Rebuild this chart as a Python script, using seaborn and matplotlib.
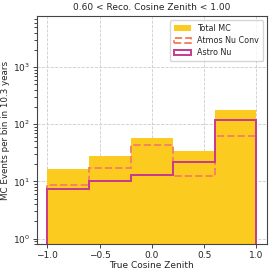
import matplotlib
matplotlib.use("Agg")
import matplotlib.pyplot as plt
import seaborn as sns
import numpy as np

# binning in true cosine zenith
bin_edges = [-1.0, -0.6, -0.2, 0.2, 0.6, 1.0]
total_mc = [16.2, 28.0, 56.8, 34.4, 180.0]
atmos_conv = [8.6, 17.3, 43.0, 12.2, 63.0]
astro_nu = [7.4, 10.3, 12.9, 22.0, 119.0]

centers = 0.5 * (np.array(bin_edges[:-1]) + np.array(bin_edges[1:]))

sns.set_style("ticks")
plt.rcParams["font.family"] = ["DejaVu Sans"]

fig = plt.figure(figsize=(2.74, 2.74), dpi=100)
ax = fig.add_axes([0.135, 0.109, 0.839, 0.833])

sns.histplot(x=centers, weights=total_mc, bins=bin_edges, element="step",
             fill=True, color="#FCCB20", alpha=1.0, linewidth=0,
             label="Total MC", ax=ax)
ax.hist(centers, bins=bin_edges, weights=atmos_conv, histtype="step",
        color="#F4845F", linestyle="--", linewidth=1.4, label="Atmos Nu Conv")
ax.hist(centers, bins=bin_edges, weights=astro_nu, histtype="step",
        color="#C73A8E", linewidth=1.4, label="Astro Nu")

ax.set_yscale("log")
ax.set_xlim(-1.1, 1.1)
ax.set_ylim(0.8, 7850)
ax.set_xticks([-1.0, -0.5, 0.0, 0.5, 1.0])
ax.grid(True, color="#cccccc", linestyle="--", linewidth=0.6)
ax.set_axisbelow(True)

ax.set_title("0.60 < Reco. Cosine Zenith < 1.00", fontsize=6.5, pad=4)
ax.set_xlabel("True Cosine Zenith", fontsize=6.5, labelpad=1)
ax.set_ylabel("MC Events per bin in 10.3 years", fontsize=6.3, labelpad=2)
ax.tick_params(labelsize=6.5, length=3, width=0.6, pad=2)
for s in ax.spines.values():
    s.set_linewidth(0.8)
    s.set_color("#444444")

ax.legend(loc="upper right", fontsize=5.8, frameon=True, handlelength=2.0,
          borderpad=0.5, labelspacing=0.4)

fig.savefig("out.png", dpi=100)
